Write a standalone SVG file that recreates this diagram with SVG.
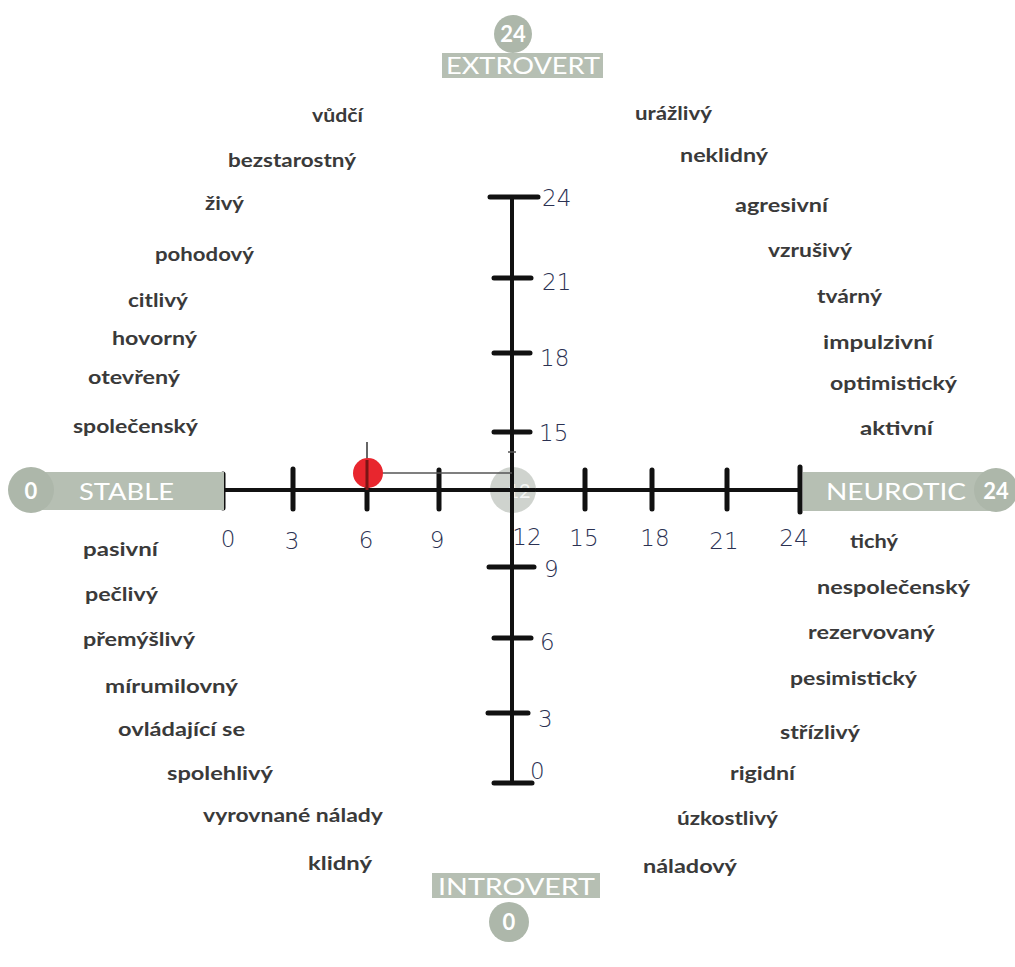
<svg xmlns="http://www.w3.org/2000/svg" width="1015" height="967" viewBox="0 0 1015 967">
<style>
.w{font-family:Lato,"Open Sans","DejaVu Sans",sans-serif;font-weight:bold;font-size:18px;fill:#3a3a3a}
.pole{fill:#b6bfb3}
.polec{fill:#adb7aa}
.pt{font-family:Lato,"DejaVu Sans",sans-serif;font-size:24px;fill:#ffffff}
.pn{font-family:Lato,"DejaVu Sans",sans-serif;font-weight:bold;font-size:22px;fill:#ffffff}
.hw{font-family:"DejaVu Sans",sans-serif;font-weight:200;font-size:23px;fill:#2b3152}
.ax{stroke:#111;stroke-width:4;stroke-linecap:round;fill:none}
.tk{stroke:#111;stroke-width:5;stroke-linecap:round}
</style>
<rect width="1015" height="967" fill="#ffffff"/>

<g id="connectors">
  <line class="ax" x1="223" y1="490" x2="800" y2="490"/>
  <line class="ax" x1="512" y1="197" x2="512" y2="783"/>
  <line class="tk" x1="223" y1="474" x2="223" y2="508"/>
  <line class="tk" x1="293" y1="469" x2="293" y2="509"/>
  <line class="tk" x1="367" y1="470" x2="367" y2="509"/>
  <line class="tk" x1="439" y1="470" x2="439" y2="509"/>
  <line class="tk" x1="585" y1="470" x2="585" y2="509"/>
  <line class="tk" x1="652" y1="470" x2="652" y2="509"/>
  <line class="tk" x1="727" y1="470" x2="727" y2="509"/>
  <line class="tk" x1="800" y1="467" x2="800" y2="512"/>
  <line class="tk" x1="490" y1="197" x2="538" y2="197"/>
  <line class="tk" x1="494" y1="278" x2="531" y2="278"/>
  <line class="tk" x1="494" y1="353" x2="530" y2="353"/>
  <line class="tk" x1="494" y1="432" x2="530" y2="432"/>
  <line class="tk" x1="489" y1="567" x2="534" y2="567"/>
  <line class="tk" x1="494" y1="638" x2="531" y2="638"/>
  <line class="tk" x1="488" y1="713" x2="528" y2="713"/>
  <line class="tk" x1="494" y1="783" x2="532" y2="783"/>
</g>

<g id="center-marker">
  <circle cx="513" cy="490" r="23" fill="#bfc4bd" opacity="0.75"/>
  <text x="519" y="498" font-family="Lato,sans-serif" font-size="20" fill="#ffffff" text-anchor="middle" opacity="0.8">12</text>
  <line class="ax" x1="512" y1="465" x2="512" y2="515"/>
  <line class="ax" x1="490" y1="490" x2="535" y2="490"/>
</g>

<g id="result-marker">
  <line x1="367" y1="442" x2="367" y2="490" stroke="#333" stroke-width="1.5"/>
  <line x1="367" y1="473" x2="512" y2="473" stroke="#555" stroke-width="1.5"/>
  <line x1="508" y1="452" x2="516" y2="452" stroke="#555" stroke-width="1.5"/>
  <circle cx="368" cy="473" r="15" fill="#e8262e"/>
  <line x1="367" y1="460" x2="367" y2="490" stroke="#7a1515" stroke-width="3"/>
</g>

<g id="pole-extrovert">
  <rect class="pole" x="442" y="53" width="161" height="25"/>
  <circle class="polec" cx="513" cy="34" r="19"/>
  <text class="pn" x="513" y="42" text-anchor="middle">24</text>
  <text class="pt" x="446" y="74" textLength="154" lengthAdjust="spacingAndGlyphs">EXTROVERT</text>
</g>

<g id="pole-introvert">
  <rect class="pole" x="432" y="873" width="168" height="25"/>
  <circle class="polec" cx="509" cy="922" r="20"/>
  <text class="pn" x="509" y="930" text-anchor="middle">0</text>
  <text class="pt" x="438" y="895" textLength="157" lengthAdjust="spacingAndGlyphs">INTROVERT</text>
</g>

<g id="pole-stable">
  <rect class="pole" x="40" y="472" width="184" height="38"/>
  <circle class="polec" cx="31" cy="490" r="23"/>
  <text class="pn" x="31" y="499" text-anchor="middle">0</text>
  <text class="pt" x="79" y="500" textLength="95" lengthAdjust="spacingAndGlyphs">STABLE</text>
</g>

<g id="pole-neurotic">
  <rect class="pole" x="803" y="472" width="190" height="39"/>
  <circle class="polec" cx="996" cy="490" r="22"/>
  <text class="pn" x="996" y="499" text-anchor="middle">24</text>
  <text class="pt" x="826" y="500" textLength="140" lengthAdjust="spacingAndGlyphs">NEUROTIC</text>
</g>

<g id="scale-horizontal" class="hw">
  <text x="228" y="547" text-anchor="middle">0</text>
  <text x="292" y="549" text-anchor="middle">3</text>
  <text x="366" y="548" text-anchor="middle">6</text>
  <text x="437" y="548" text-anchor="middle">9</text>
  <text x="527" y="545" text-anchor="middle">12</text>
  <text x="584" y="546" text-anchor="middle">15</text>
  <text x="655" y="546" text-anchor="middle">18</text>
  <text x="724" y="549" text-anchor="middle">21</text>
  <text x="794" y="546" text-anchor="middle">24</text>
</g>

<g id="scale-vertical" class="hw">
  <text x="542" y="206">24</text>
  <text x="542" y="290">21</text>
  <text x="540" y="366">18</text>
  <text x="539" y="441">15</text>
  <text x="544" y="577">9</text>
  <text x="540" y="650">6</text>
  <text x="538" y="727">3</text>
  <text x="530" y="779">0</text>
</g>

<g id="traits-stable-extrovert" class="w">
  <text x="312" y="122" textLength="51" lengthAdjust="spacingAndGlyphs">vůdčí</text>
  <text x="228" y="167" textLength="128" lengthAdjust="spacingAndGlyphs">bezstarostný</text>
  <text x="205" y="210" textLength="39" lengthAdjust="spacingAndGlyphs">živý</text>
  <text x="155" y="261" textLength="99" lengthAdjust="spacingAndGlyphs">pohodový</text>
  <text x="128" y="307" textLength="60" lengthAdjust="spacingAndGlyphs">citlivý</text>
  <text x="112" y="345" textLength="85" lengthAdjust="spacingAndGlyphs">hovorný</text>
  <text x="88" y="384" textLength="92" lengthAdjust="spacingAndGlyphs">otevřený</text>
  <text x="73" y="433" textLength="125" lengthAdjust="spacingAndGlyphs">společenský</text>
</g>

<g id="traits-neurotic-extrovert" class="w">
  <text x="635" y="120" textLength="77" lengthAdjust="spacingAndGlyphs">urážlivý</text>
  <text x="680" y="162" textLength="88" lengthAdjust="spacingAndGlyphs">neklidný</text>
  <text x="735" y="212" textLength="93" lengthAdjust="spacingAndGlyphs">agresivní</text>
  <text x="768" y="257" textLength="84" lengthAdjust="spacingAndGlyphs">vzrušivý</text>
  <text x="817" y="303" textLength="65" lengthAdjust="spacingAndGlyphs">tvárný</text>
  <text x="823" y="349" textLength="110" lengthAdjust="spacingAndGlyphs">impulzivní</text>
  <text x="830" y="390" textLength="127" lengthAdjust="spacingAndGlyphs">optimistický</text>
  <text x="860" y="435" textLength="73" lengthAdjust="spacingAndGlyphs">aktivní</text>
</g>

<g id="traits-stable-introvert" class="w">
  <text x="83" y="556" textLength="75" lengthAdjust="spacingAndGlyphs">pasivní</text>
  <text x="85" y="601" textLength="73" lengthAdjust="spacingAndGlyphs">pečlivý</text>
  <text x="83" y="646" textLength="112" lengthAdjust="spacingAndGlyphs">přemýšlivý</text>
  <text x="105" y="693" textLength="133" lengthAdjust="spacingAndGlyphs">mírumilovný</text>
  <text x="118" y="736" textLength="127" lengthAdjust="spacingAndGlyphs">ovládající se</text>
  <text x="167" y="780" textLength="106" lengthAdjust="spacingAndGlyphs">spolehlivý</text>
  <text x="203" y="822" textLength="180" lengthAdjust="spacingAndGlyphs">vyrovnané nálady</text>
  <text x="308" y="870" textLength="64" lengthAdjust="spacingAndGlyphs">klidný</text>
</g>

<g id="traits-neurotic-introvert" class="w">
  <text x="850" y="548" textLength="48" lengthAdjust="spacingAndGlyphs">tichý</text>
  <text x="817" y="594" textLength="153" lengthAdjust="spacingAndGlyphs">nespolečenský</text>
  <text x="808" y="639" textLength="127" lengthAdjust="spacingAndGlyphs">rezervovaný</text>
  <text x="790" y="685" textLength="127" lengthAdjust="spacingAndGlyphs">pesimistický</text>
  <text x="780" y="739" textLength="80" lengthAdjust="spacingAndGlyphs">střízlivý</text>
  <text x="730" y="780" textLength="65" lengthAdjust="spacingAndGlyphs">rigidní</text>
  <text x="677" y="825" textLength="101" lengthAdjust="spacingAndGlyphs">úzkostlivý</text>
  <text x="643" y="873" textLength="94" lengthAdjust="spacingAndGlyphs">náladový</text>
</g>
</svg>
